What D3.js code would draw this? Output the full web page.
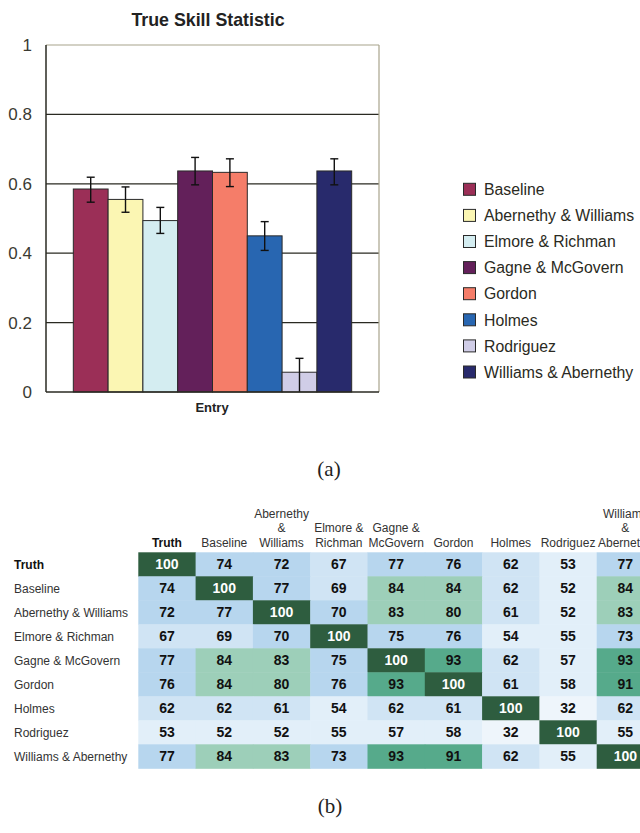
<!DOCTYPE html>
<html>
<head>
<meta charset="utf-8">
<script src="https://cdn.jsdelivr.net/npm/d3@7"></script>
<style>
  html, body { margin: 0; padding: 0; background: #fff; }
  svg { display: block; }
</style>
</head>
<body>
<svg id="fig" width="640" height="833"></svg>
<script>
// ---- (a) True Skill Statistic per entry ----
const entries = ["Baseline", "Abernethy & Williams", "Elmore & Richman", "Gagne & McGovern",
                 "Gordon", "Holmes", "Rodriguez", "Williams & Abernethy"];
const tss = [0.585, 0.555, 0.494, 0.637, 0.633, 0.450, 0.057, 0.637];
const errHigh = [0.034, 0.036, 0.038, 0.039, 0.039, 0.041, 0.040, 0.035];
const errLow  = [0.038, 0.037, 0.037, 0.040, 0.041, 0.042, 0.060, 0.040];
const barColors = ["#9b2f57", "#fbf6b3", "#d4edf1", "#63205a", "#f57d69", "#2866b1", "#d0cde7", "#282a6c"];
const yTicks = [0, 0.2, 0.4, 0.6, 0.8, 1];
const yTickLabels = ["0", "0.2", "0.4", "0.6", "0.8", "1"];

// ---- (b) agreement matrix ----
const matrixNames = ["Truth", "Baseline", "Abernethy & Williams", "Elmore & Richman", "Gagne & McGovern",
                     "Gordon", "Holmes", "Rodriguez", "Williams & Abernethy"];
const columnHeaders = [["Truth"], ["Baseline"], ["Abernethy", "&", "Williams"], ["Elmore &", "Richman"],
                       ["Gagne &", "McGovern"], ["Gordon"], ["Holmes"], ["Rodriguez"], ["Williams", "&", "Abernethy"]];
const agreement = [
  [100, 74, 72, 67, 77, 76, 62, 53, 77],
  [74, 100, 77, 69, 84, 84, 62, 52, 84],
  [72, 77, 100, 70, 83, 80, 61, 52, 83],
  [67, 69, 70, 100, 75, 76, 54, 55, 73],
  [77, 84, 83, 75, 100, 93, 62, 57, 93],
  [76, 84, 80, 76, 93, 100, 61, 58, 91],
  [62, 62, 61, 54, 62, 61, 100, 32, 62],
  [53, 52, 52, 55, 57, 58, 32, 100, 55],
  [77, 84, 83, 73, 93, 91, 62, 55, 100]
];
const heatBreaks = [50, 60, 70, 80, 90, 100];
const heatColors = ["#eef5fb", "#e2eff9", "#d0e4f4", "#b7d6ee", "#9dcfb9", "#56aa8b", "#2e5d3f"];

const svg = d3.select("#fig");
const sans = "'Liberation Sans', Arial, sans-serif";

// ===== Bar chart =====
const plot = { left: 46, right: 379, top: 45, bottom: 392 };
const y = d3.scaleLinear().domain([0, 1]).range([plot.bottom, plot.top]);
const x = d3.scaleBand().domain(entries).range([plot.left, plot.right])
  .paddingInner(0).paddingOuter(0.785);

const gA = svg.append("g");

// horizontal gridlines
gA.append("g").selectAll("line")
  .data(yTicks.filter(t => t > 0 && t < 1))
  .join("line")
  .attr("x1", plot.left).attr("x2", plot.right)
  .attr("y1", d => y(d)).attr("y2", d => y(d))
  .attr("stroke", "#2a2a22").attr("stroke-width", 1.2);

// plot frame: light top/right, dark axes left/bottom
gA.append("line").attr("x1", plot.left).attr("x2", plot.right)
  .attr("y1", y(1)).attr("y2", y(1)).attr("stroke", "#a8a38c").attr("stroke-width", 1.2);
gA.append("line").attr("x1", plot.right).attr("x2", plot.right)
  .attr("y1", y(1)).attr("y2", y(0)).attr("stroke", "#a8a38c").attr("stroke-width", 1.2);

// bars
gA.append("g").selectAll("rect")
  .data(entries)
  .join("rect")
  .attr("x", d => x(d))
  .attr("width", x.bandwidth())
  .attr("y", (d, i) => y(tss[i]))
  .attr("height", (d, i) => y(0) - y(tss[i]))
  .attr("fill", (d, i) => barColors[i])
  .attr("stroke", "#2a2a2a").attr("stroke-width", 1);

// error bars
const eb = gA.append("g").attr("stroke", "#111").attr("stroke-width", 1.4);
entries.forEach((d, i) => {
  const cx = x(d) + x.bandwidth() / 2;
  const hi = tss[i] + errHigh[i];
  const loRaw = tss[i] - errLow[i];
  const lo = Math.max(0, loRaw);
  eb.append("line").attr("x1", cx).attr("x2", cx).attr("y1", y(hi)).attr("y2", y(lo));
  eb.append("line").attr("x1", cx - 4).attr("x2", cx + 4).attr("y1", y(hi)).attr("y2", y(hi));
  if (loRaw >= 0) {
    eb.append("line").attr("x1", cx - 4).attr("x2", cx + 4).attr("y1", y(lo)).attr("y2", y(lo));
  }
});

// axes lines
gA.append("line").attr("x1", plot.left).attr("x2", plot.left)
  .attr("y1", y(1)).attr("y2", y(0)).attr("stroke", "#2a2a22").attr("stroke-width", 1.5);
gA.append("line").attr("x1", plot.left).attr("x2", plot.right)
  .attr("y1", y(0)).attr("y2", y(0)).attr("stroke", "#2a2a22").attr("stroke-width", 1.5);

// y tick labels
gA.append("g").selectAll("text")
  .data(yTicks)
  .join("text")
  .attr("x", 32)
  .attr("y", d => y(d) + 6)
  .attr("text-anchor", "end")
  .attr("font-family", sans).attr("font-size", 17)
  .attr("fill", "#3a3a32")
  .text((d, i) => yTickLabels[i]);

// title and axis label
gA.append("text").attr("x", 208).attr("y", 26).attr("text-anchor", "middle")
  .attr("font-family", sans).attr("font-size", 17.8).attr("font-weight", "bold")
  .attr("fill", "#222").text("True Skill Statistic");
gA.append("text").attr("x", 212).attr("y", 412).attr("text-anchor", "middle")
  .attr("font-family", sans).attr("font-size", 13).attr("font-weight", "bold")
  .attr("fill", "#222").text("Entry");

// legend
const legY = d3.scalePoint().domain(entries).range([189.3, 372]);
const leg = gA.append("g").selectAll("g").data(entries).join("g")
  .attr("transform", d => `translate(463.5,${legY(d)})`);
leg.append("rect").attr("x", 0).attr("y", -6).attr("width", 12).attr("height", 12)
  .attr("fill", (d, i) => barColors[i]).attr("stroke", "#2a2a2a").attr("stroke-width", 1);
leg.append("text").attr("x", 20.5).attr("y", 0).attr("dy", "0.36em")
  .attr("font-family", sans).attr("font-size", 15.8).attr("fill", "#2a2a22")
  .text(d => d);

// caption (a)
svg.append("text").attr("x", 329).attr("y", 476).attr("text-anchor", "middle")
  .attr("font-family", "'Liberation Serif', 'Times New Roman', serif").attr("font-size", 21)
  .attr("fill", "#222").text("(a)");

// ===== Heat map =====
const hx = d3.scaleBand().domain(matrixNames).range([138.3, 138.3 + 9 * 57.3]).padding(0);
const hy = d3.scaleBand().domain(matrixNames).range([552.3, 768.3]).padding(0);
const color = d3.scaleThreshold().domain(heatBreaks).range(heatColors);

const gB = svg.append("g");
const cells = agreement.flatMap((row, r) => row.map((v, c) => ({ r, c, v })));

gB.append("g").selectAll("rect").data(cells).join("rect")
  .attr("x", d => hx(matrixNames[d.c]))
  .attr("y", d => hy(matrixNames[d.r]))
  .attr("width", hx.bandwidth() + 0.5)
  .attr("height", hy.bandwidth() + 0.5)
  .attr("fill", d => color(d.v));

gB.append("g").selectAll("text").data(cells).join("text")
  .attr("x", d => hx(matrixNames[d.c]) + hx.bandwidth() / 2)
  .attr("y", d => hy(matrixNames[d.r]) + hy.bandwidth() / 2)
  .attr("dy", "0.36em")
  .attr("text-anchor", "middle")
  .attr("font-family", sans).attr("font-size", 14).attr("font-weight", "bold")
  .attr("fill", d => d.v >= 100 ? "#fff" : "#111")
  .text(d => d.v);

// row labels
gB.append("g").selectAll("text").data(matrixNames).join("text")
  .attr("x", 14)
  .attr("y", d => hy(d) + hy.bandwidth() / 2)
  .attr("dy", "0.36em")
  .attr("font-family", sans).attr("font-size", 12)
  .attr("font-weight", (d, i) => i === 0 ? "bold" : "normal")
  .attr("fill", (d, i) => i === 0 ? "#111" : "#333")
  .text(d => d);

// column headers (multi-line, bottom-aligned); the last column runs past the page edge
const head = gB.append("g").selectAll("text").data(matrixNames).join("text")
  .attr("text-anchor", "middle")
  .attr("font-family", sans).attr("font-size", 12)
  .attr("font-weight", (d, i) => i === 0 ? "bold" : "normal")
  .attr("fill", (d, i) => i === 0 ? "#111" : "#333");
head.each(function (d, i) {
  const lines = columnHeaders[i];
  const cx = hx(d) + hx.bandwidth() / 2;
  d3.select(this).selectAll("tspan").data(lines).join("tspan")
    .attr("x", cx)
    .attr("y", (l, j) => 546.7 - (lines.length - 1 - j) * 14.6)
    .text(l => l);
});

// caption (b)
svg.append("text").attr("x", 330).attr("y", 813).attr("text-anchor", "middle")
  .attr("font-family", "'Liberation Serif', 'Times New Roman', serif").attr("font-size", 21)
  .attr("fill", "#222").text("(b)");
</script>
</body>
</html>
